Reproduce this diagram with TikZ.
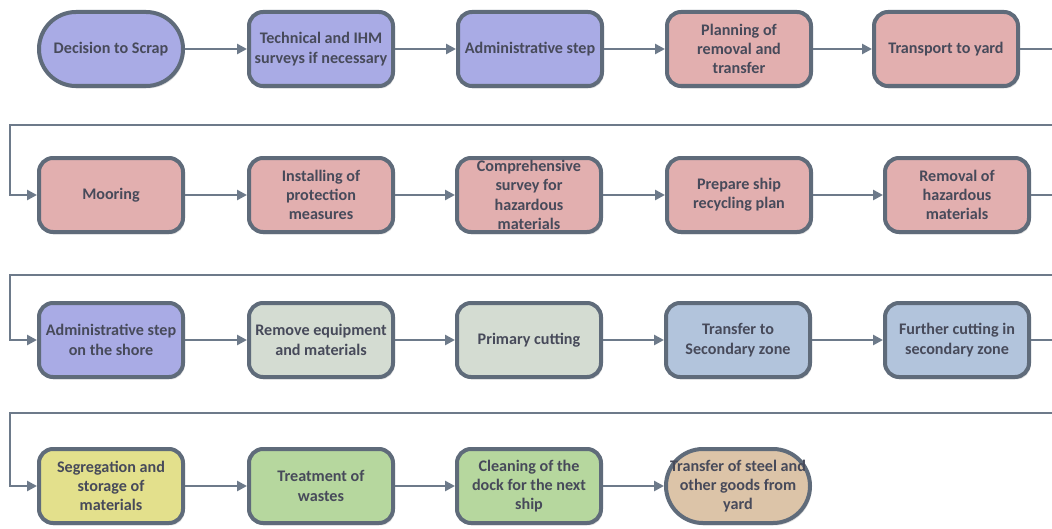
\documentclass[tikz,border=0pt]{standalone}
\usepackage{fontspec}
\setmainfont{Carlito}
\usetikzlibrary{arrows.meta,shadows}
\definecolor{edge}{HTML}{5F6B7A}
\definecolor{wire}{HTML}{6D7A8A}
\definecolor{ink}{HTML}{474A5A}
\definecolor{lav}{HTML}{A9ABE5}
\definecolor{rose}{HTML}{E2AFAF}
\definecolor{sage}{HTML}{D4DCD2}
\definecolor{sky}{HTML}{B2C4DC}
\definecolor{lemon}{HTML}{E3E08C}
\definecolor{leaf}{HTML}{B6D79E}
\definecolor{sand}{HTML}{DCC4A8}
\tikzset{
  box/.style={draw=edge, line width=3pt, rounded corners=10.5pt,
    minimum width=108pt, minimum height=55.5pt, inner sep=0pt,
    align=center, text=ink,
    font=\fontsize{12.1}{14.5}\selectfont\bfseries,
    drop shadow={opacity=0.22, shadow xshift=1.2pt, shadow yshift=-1.8pt, fill=black!60}},
  pill/.style={box, rounded corners=27.7pt},
  conn/.style={draw=wire, line width=2.2pt,
    -{Triangle[length=7.5pt,width=7.5pt]}}
}
\begin{document}
\begin{tikzpicture}[x=0.75pt,y=-0.75pt]
\useasboundingbox (0,0) rectangle (1052,528);
\clip (0,0) rectangle (1052,528);
\fill[white] (0,0) rectangle (1052,528);

% first row
\node[pill, fill=lav]  (a1) at (111,49)  {Decision to Scrap};
\node[box,  fill=lav]  (a2) at (321,49)  {Technical and IHM\\surveys if necessary};
\node[box,  fill=lav]  (a3) at (530,49)  {Administrative step};
\node[box,  fill=rose] (a4) at (739,49)  {Planning of\\removal and\\transfer};
\node[box,  fill=rose] (a5) at (946,49)  {Transport to yard};

% second row
\node[box, fill=rose] (b1) at (111,195) {Mooring};
\node[box, fill=rose] (b2) at (321,195) {Installing of\\protection\\measures};
\node[box, fill=rose] (b3) at (529,195) {Comprehensive\\survey for\\hazardous\\materials};
\node[box, fill=rose] (b4) at (739,195) {Prepare ship\\recycling plan};
\node[box, fill=rose] (b5) at (957,195) {Removal of\\hazardous\\materials};

% third row
\node[box, fill=lav]  (c1) at (111,340) {Administrative step\\on the shore};
\node[box, fill=sage] (c2) at (321,340) {Remove equipment\\and materials};
\node[box, fill=sage] (c3) at (529,340) {Primary cutting};
\node[box, fill=sky]  (c4) at (738,340) {Transfer to\\Secondary zone};
\node[box, fill=sky]  (c5) at (957,340) {Further cutting in\\secondary zone};

% fourth row
\node[box,  fill=lemon] (d1) at (111,486) {Segregation and\\storage of\\materials};
\node[box,  fill=leaf]  (d2) at (321,486) {Treatment of\\wastes};
\node[box,  fill=leaf]  (d3) at (529,486) {Cleaning of the\\dock for the next\\ship};
\node[pill, fill=sand]  (d4) at (738,486) {Transfer of steel and\\other goods from\\yard};

% turn points of the row returns
\coordinate (r1) at (1090,125);  \coordinate (l1) at (10,125);
\coordinate (r2) at (1090,275);  \coordinate (l2) at (10,275);
\coordinate (r3) at (1090,413);  \coordinate (l3) at (10,413);

% connectors within rows
\foreach \r in {a,b,c}{
  \foreach \i/\j in {1/2,2/3,3/4,4/5}{
    \draw[conn] (\r\i) -- (\r\j);
  }
}
\foreach \i/\j in {1/2,2/3,3/4}{
  \draw[conn] (d\i) -- (d\j);
}

% returns to the next row
\draw[conn] (a5.east) -| (r1) -- (l1) |- (b1.west);
\draw[conn] (b5.east) -| (r2) -- (l2) |- (c1.west);
\draw[conn] (c5.east) -| (r3) -- (l3) |- (d1.west);
\end{tikzpicture}
\end{document}
